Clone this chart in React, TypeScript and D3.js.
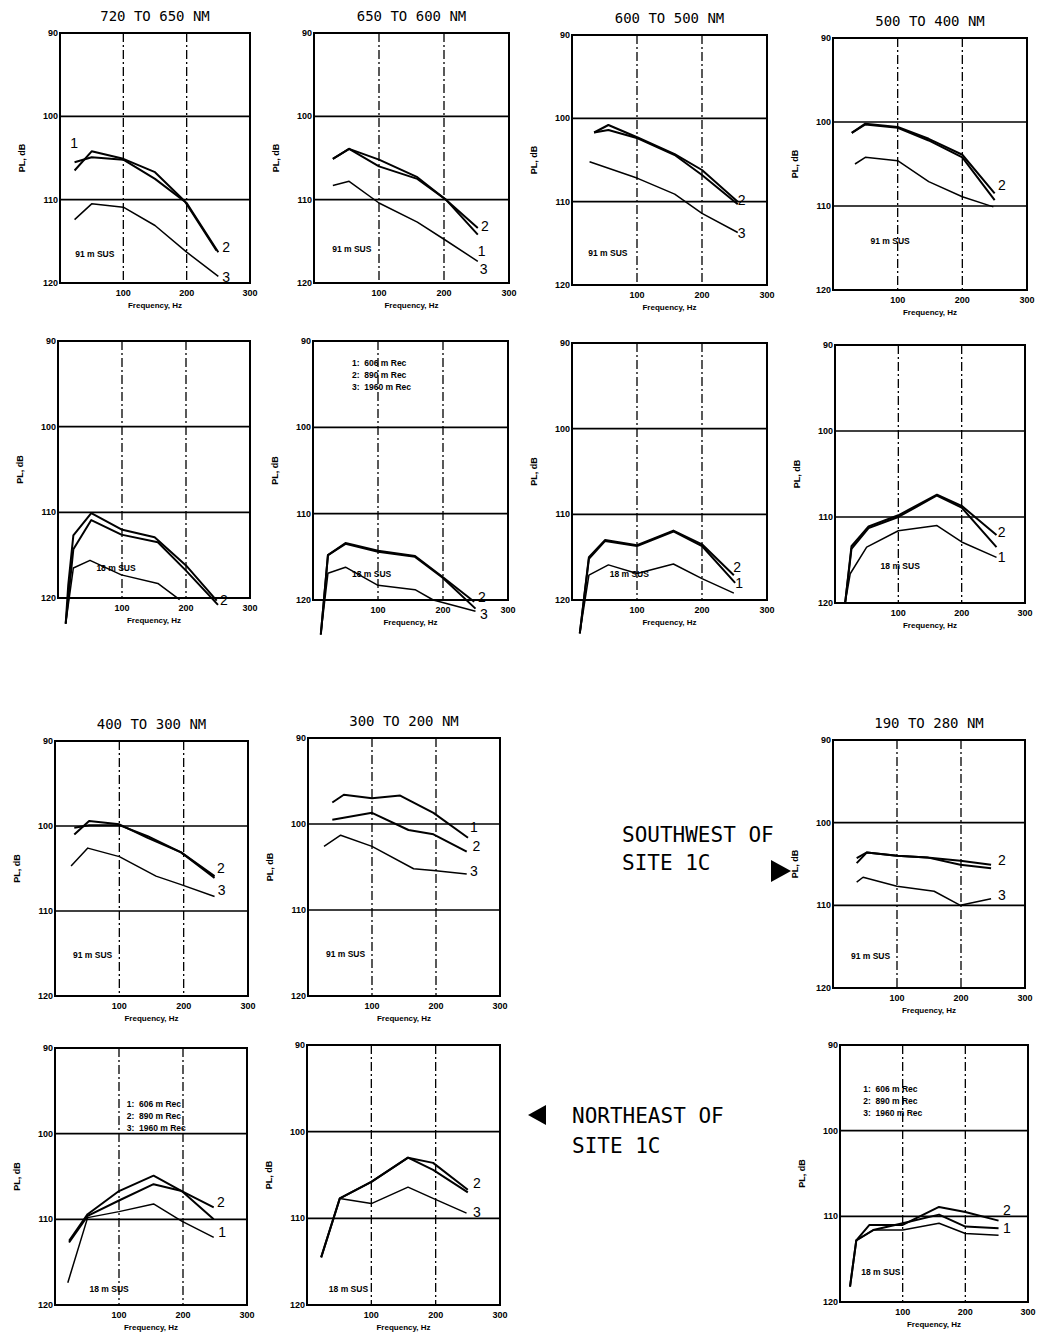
import React from "react";
import * as d3 from "d3";

type Pt = [number, number];

// ---- data (frequency Hz, PL dB) ----
const p1s1: Pt[] = [[23,106.5],[50,104.2],[100,105.1],[150,106.7],[197,110.2],[247,116.1]];
const p1s2: Pt[] = [[23,105.5],[50,104.9],[100,105.2],[150,107.5],[200,110.4],[250,116.3]];
const p1s3: Pt[] = [[23,112.4],[50,110.5],[100,110.9],[150,113.1],[200,116.3],[250,119.2]];

const p2s1: Pt[] = [[29,105.1],[54,103.9],[100,106],[159,107.5],[203,110],[252,114.2]];
const p2s2: Pt[] = [[29,105.1],[54,103.9],[100,105.2],[159,107.3],[203,110],[252,113.4]];
const p2s3: Pt[] = [[29,108.3],[54,107.8],[100,110.4],[159,112.7],[203,114.9],[252,117.4]];

const p3s1: Pt[] = [[34,101.7],[56,101.4],[101,102.4],[158,104.4],[200,106.8],[255,110.3]];
const p3s2: Pt[] = [[34,101.7],[56,100.8],[101,102.3],[158,104.3],[200,106.2],[255,110]];
const p3s3: Pt[] = [[27,105.2],[101,107.2],[158,109.1],[200,111.4],[255,113.7]];

const p4s1: Pt[] = [[29,101.3],[50,100.3],[100,100.7],[148,102.2],[200,104.2],[250,109.3]];
const p4s2: Pt[] = [[29,101.3],[50,100.2],[100,100.6],[148,102],[200,103.9],[250,108.5]];
const p4s3: Pt[] = [[34,105],[50,104.2],[100,104.6],[148,107.1],[200,108.9],[248,110.1]];

const p5s1: Pt[] = [[12,123],[16,118.5],[24,112.7],[52,110.1],[99,112],[151,112.9],[200,116.2],[248,120.3]];
const p5s2: Pt[] = [[12,123],[24,114.3],[52,110.9],[99,112.6],[156,113.5],[200,116.8],[250,120.8]];
const p5s3: Pt[] = [[12,123],[24,116.5],[50,115.6],[99,117.3],[156,118.3],[190,120.2]];

const p6s1: Pt[] = [[12,124],[23,114.8],[50,113.5],[100,114.4],[157,115],[199,117.4],[250,121]];
const p6s2: Pt[] = [[12,124],[23,114.8],[50,113.4],[100,114.3],[157,114.9],[199,117.3],[248,120.2]];
const p6s3: Pt[] = [[12,124],[23,116.9],[50,116.2],[100,118.3],[157,118.8],[185,120],[250,121.3]];

const p7s1: Pt[] = [[12,123.9],[26,115.2],[51,113.1],[100,113.7],[156,112],[200,113.7],[251,118]];
const p7s2: Pt[] = [[12,123.9],[26,115],[51,113],[100,113.6],[156,111.9],[200,113.5],[249,117.1]];
const p7s3: Pt[] = [[12,123.9],[26,117.1],[56,115.9],[100,116.9],[156,115.8],[200,117.5],[249,119.2]];

const p8s1: Pt[] = [[16,120],[26,113.7],[53,111.3],[100,110],[161,107.5],[200,108.9],[255,113.5]];
const p8s2: Pt[] = [[16,120],[26,113.4],[53,111.1],[100,109.8],[161,107.4],[200,108.7],[255,112.1]];
const p8s3: Pt[] = [[16,120],[24,116.6],[50,113.5],[100,111.6],[161,111],[200,112.9],[255,114.7]];

const p9s1: Pt[] = [[30,100.2],[53,99.9],[100,99.9],[144,101.2],[196,103.1],[248,106.1]];
const p9s2: Pt[] = [[30,101],[53,99.4],[100,99.8],[144,101.4],[196,103.1],[248,105.9]];
const p9s3: Pt[] = [[25,104.7],[51,102.6],[100,103.6],[157,105.9],[196,106.9],[248,108.3]];

const p10s1: Pt[] = [[38,97.5],[56,96.6],[100,97],[144,96.7],[196,98.7],[250,101.6]];
const p10s2: Pt[] = [[38,99.5],[100,98.7],[157,100.7],[196,101.2],[248,103.2]];
const p10s3: Pt[] = [[25,102.6],[51,101.3],[100,102.6],[165,105.2],[196,105.4],[248,105.8]];

const p11s1: Pt[] = [[37,104.9],[53,103.6],[100,104],[147,104.2],[199,105.1],[247,105.5]];
const p11s2: Pt[] = [[37,104.3],[53,103.6],[100,104],[147,104.2],[199,104.6],[247,105.1]];
const p11s3: Pt[] = [[37,107.2],[47,106.6],[100,107.7],[158,108.3],[199,110],[247,109.2]];

const p12s1: Pt[] = [[22,112.7],[51,109.6],[100,107.8],[154,105.9],[198,106.7],[248,110]];
const p12s2: Pt[] = [[22,112.5],[51,109.4],[100,106.7],[154,104.9],[198,106.7],[248,108.6]];
const p12s3: Pt[] = [[20,117.4],[51,109.8],[100,109.1],[154,108.2],[198,110.2],[248,112.1]];

const p13s1: Pt[] = [[22,114.5],[51,107.7],[100,105.8],[157,103],[196,104.4],[250,107]];
const p13s2: Pt[] = [[22,114.5],[51,107.7],[100,105.8],[157,103],[196,103.6],[250,106.7]];
const p13s3: Pt[] = [[51,107.7],[100,108.3],[157,106.4],[196,107.7],[248,109.4]];

const p14s1: Pt[] = [[16,118.2],[26,112.8],[53,111.6],[100,110.8],[158,109.8],[200,111.2],[253,111.4]];
const p14s2: Pt[] = [[16,118.2],[26,112.8],[47,111],[100,111],[158,108.9],[200,109.5],[253,110.5]];
const p14s3: Pt[] = [[26,112.8],[53,111.6],[100,111.6],[158,110.8],[200,112],[253,112.2]];

const titles = ["720 TO 650 NM","650 TO 600 NM","600 TO 500 NM","500 TO 400 NM",
  "","","","","400 TO 300 NM","300 TO 200 NM","190 TO 280 NM","","",""];
const depthLabels = ["91 m SUS","91 m SUS","91 m SUS","91 m SUS","18 m SUS","18 m SUS","18 m SUS","18 m SUS",
  "91 m SUS","91 m SUS","91 m SUS","18 m SUS","18 m SUS","18 m SUS"];
const legendLines = ["1:  606 m Rec","2:  890 m Rec","3:  1960 m Rec"];
const yTicks = [90,100,110,120];
const xTicks = [100,200,300];

type Lab = [string, number, number];
const curveLabels: Lab[][] = [
  [["2",256,115.7],["3",256,119.3],["1",16,103.2]],
  [["2",257,113.2],["1",252,116.2],["3",255,118.3]],
  [["2",255,109.8],["3",255,113.8]],
  [["2",255,107.5]],
  [["2",253,120.2]],
  [["2",254,119.7],["3",257,121.6]],
  [["2",248,116.1],["1",251,118]],
  [["2",257,111.7],["1",257,114.7]],
  [["2",252,104.9],["3",253,107.5]],
  [["1",253,100.3],["2",257,102.6],["3",253,105.5]],
  [["2",258,104.5],["3",258,108.8]],
  [["2",253,108],["1",255,111.5]],
  [["2",258,105.9],["3",258,109.3]],
  [["2",260,109.3],["1",260,111.4]],
];
const depthPos: Pt[] = [[24,116.9],[28,116.3],[25,116.5],[58,114.5],[60,116.8],[60,117.3],[58,117.3],[72,116],
  [28,115.5],[28,115.5],[28,116.5],[54,118.5],[34,118.5],[34,116.8]];
const legendPos: (Pt | null)[] = [null,null,null,null,null,[60,92.9],null,null,null,null,null,[112,96.9],null,[37,95.5]];

const series: Pt[][][] = [
  [p1s1,p1s2,p1s3],[p2s1,p2s2,p2s3],[p3s1,p3s2,p3s3],[p4s1,p4s2,p4s3],
  [p5s1,p5s2,p5s3],[p6s1,p6s2,p6s3],[p7s1,p7s2,p7s3],[p8s1,p8s2,p8s3],
  [p9s1,p9s2,p9s3],[p10s1,p10s2,p10s3],[p11s1,p11s2,p11s3],
  [p12s1,p12s2,p12s3],[p13s1,p13s2,p13s3],[p14s1,p14s2,p14s3],
];

// ---- layout (frame boxes: left, top, right, bottom) ----
const frames: [number, number, number, number][] = [
  [60,33,250,283],[314,33,509,283],[572,35,767,285],[833,38,1027,290],
  [58,341,250,598],[313,341,508,600],[572,343,767,600],[835,345,1025,603],
  [55,741,248,996],[308,738,500,996],[833,740,1025,988],
  [55,1048,247,1305],[307,1045,500,1305],[840,1045,1028,1302],
];

const tickFont = "'Liberation Sans', Arial, sans-serif";
const monoFont = "'DejaVu Sans Mono', monospace";

function Panel({ i }: { i: number }) {
  const [L, T, R, B] = frames[i];
  const x = d3.scaleLinear().domain([0, 300]).range([L, R]);
  const y = d3.scaleLinear().domain([90, 120]).range([T, B]);
  const line = d3.line<Pt>().x(d => x(d[0])).y(d => y(d[1]));
  const dash = "9,3,2,3";
  const lp = legendPos[i];
  const dp = depthPos[i];
  return (
    <g>
      {[100, 110].map(v => (
        <line key={"h" + v} x1={L} x2={R} y1={y(v)} y2={y(v)} stroke="#000" strokeWidth={1.6} />
      ))}
      {[100, 200].map(v => (
        <line key={"v" + v} x1={x(v)} x2={x(v)} y1={T} y2={B} stroke="#000" strokeWidth={1.3} strokeDasharray={dash} />
      ))}
      <rect x={L} y={T} width={R - L} height={B - T} fill="none" stroke="#000" strokeWidth={2} />
      {yTicks.map(v => (
        <text key={"yt" + v} x={L - 2} y={y(v) + 3} textAnchor="end" fontFamily={tickFont} fontWeight="bold" fontSize={9}>{v}</text>
      ))}
      {xTicks.map(v => (
        <text key={"xt" + v} x={x(v)} y={B + 13} textAnchor="middle" fontFamily={tickFont} fontWeight="bold" fontSize={9}>{v}</text>
      ))}
      <text x={(L + R) / 2} y={B + 25} textAnchor="middle" fontFamily={tickFont} fontWeight="bold" fontSize={8}>Frequency, Hz</text>
      <text transform={`translate(${L - 35},${(T + B) / 2}) rotate(-90)`} textAnchor="middle" fontFamily={tickFont} fontWeight="bold" fontSize={9}>PL, dB</text>
      {titles[i] && (
        <text x={(L + R) / 2} y={T - 12} textAnchor="middle" fontFamily={monoFont} fontSize={14}>{titles[i]}</text>
      )}
      {series[i].map((s, k) => (
        <path key={"c" + k} d={line(s) || ""} fill="none" stroke="#000" strokeWidth={k < 2 ? 2 : 1.5} strokeLinejoin="round" />
      ))}
      {curveLabels[i].map((l, k) => (
        <text key={"l" + k} x={x(l[1])} y={y(l[2]) + 5} fontFamily={tickFont} fontSize={14}>{l[0]}</text>
      ))}
      <text x={x(dp[0])} y={y(dp[1])} fontFamily={tickFont} fontWeight="bold" fontSize={8.5}>{depthLabels[i]}</text>
      {lp && legendLines.map((t, k) => (
        <text key={"lg" + k} x={x(lp[0])} y={y(lp[1]) + k * 12} fontFamily={tickFont} fontWeight="bold" fontSize={8.5} xmlSpace="preserve">{t}</text>
      ))}
    </g>
  );
}

export default function App() {
  return (
    <svg width={1042} height={1338} style={{ position: "absolute", left: 0, top: 0, background: "#fff" }}>
      <rect x={0} y={0} width={1042} height={1338} fill="#fff" />
      {frames.map((_, i) => <Panel key={i} i={i} />)}
      <text x={622} y={842} fontFamily={monoFont} fontSize={21}>SOUTHWEST OF</text>
      <text x={622} y={870} fontFamily={monoFont} fontSize={21}>SITE 1C</text>
      <path d="M771,860 L791,871 L771,882 Z" fill="#000" />
      <text x={572} y={1123} fontFamily={monoFont} fontSize={21}>NORTHEAST OF</text>
      <text x={572} y={1153} fontFamily={monoFont} fontSize={21}>SITE 1C</text>
      <path d="M546,1105 L528,1115 L546,1125 Z" fill="#000" />
    </svg>
  );
}
